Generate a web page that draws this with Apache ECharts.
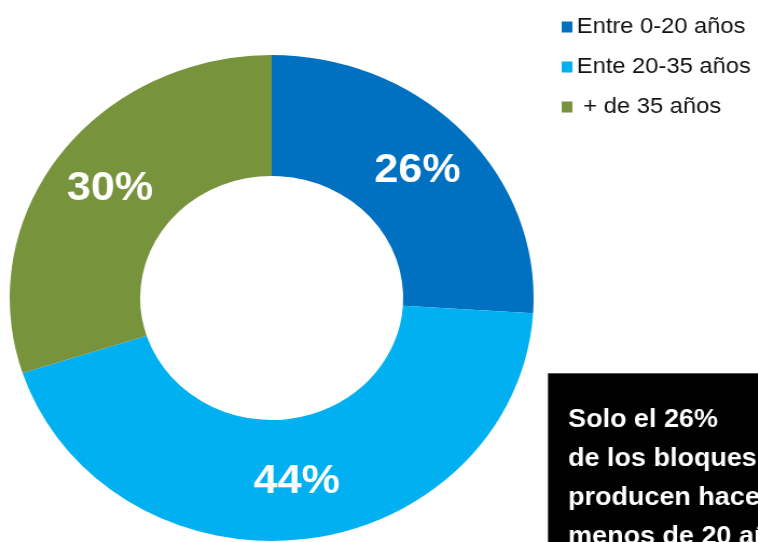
<!DOCTYPE html>
<html>
<head>
<meta charset="utf-8">
<script src="https://cdn.jsdelivr.net/npm/echarts@6/dist/echarts.min.js"></script>
<style>
  html, body { margin: 0; padding: 0; background: #fff; overflow: hidden; }
  /* the source picture is stretched sideways, so the whole chart is too */
  #chart { width: 703px; height: 542px; transform: scaleX(1.078); transform-origin: 0 0; }
</style>
</head>
<body>
<div id="chart"></div>
<script>
// datos
const categories = ["Entre 0-20 años", "Ente 20-35 años", " + de 35 años"];
const values = [26, 44, 30];
const colors = ["#0070C0", "#00B0F0", "#77933C"];
const noteLines = ["Solo el 26%", "de los bloques", "producen hace", "menos de 20 años"];

const myChart = echarts.init(document.getElementById("chart"));

const option = {
  animation: false,
  color: colors,
  legend: {
    orient: "vertical",
    left: 516,
    top: 11,
    itemWidth: 10,
    itemHeight: 11,
    itemGap: 18,
    icon: "rect",
    selectedMode: false,
    textStyle: {
      color: "#111",
      fontSize: 22,
      fontFamily: "Liberation Sans, Arial, sans-serif",
      padding: [0, 0, 0, -1]
    },
    data: categories
  },
  series: [
    {
      type: "pie",
      center: [252, 298],
      radius: [122, 243],
      startAngle: 90,
      clockwise: true,
      avoidLabelOverlap: false,
      label: {
        show: true,
        position: "inside",
        formatter: "{c}%",
        color: "#fff",
        fontSize: 40,
        fontWeight: "bold",
        fontFamily: "Liberation Sans, Arial, sans-serif"
      },
      labelLine: { show: false },
      emphasis: { disabled: true },
      itemStyle: { borderWidth: 0 },
      data: categories.map((name, i) => ({ name, value: values[i] }))
    }
  ],
  graphic: [
    {
      type: "rect",
      left: 508,
      top: 373,
      shape: { width: 300, height: 200 },
      style: { fill: "#000", stroke: "#555", lineWidth: 1 }
    },
    {
      type: "text",
      left: 527,
      top: 401,
      style: {
        text: noteLines.join("\n"),
        fill: "#fff",
        fontSize: 25,
        fontWeight: "bold",
        lineHeight: 39,
        fontFamily: "Liberation Sans, Arial, sans-serif"
      }
    }
  ]
};

myChart.setOption(option);
</script>
</body>
</html>
